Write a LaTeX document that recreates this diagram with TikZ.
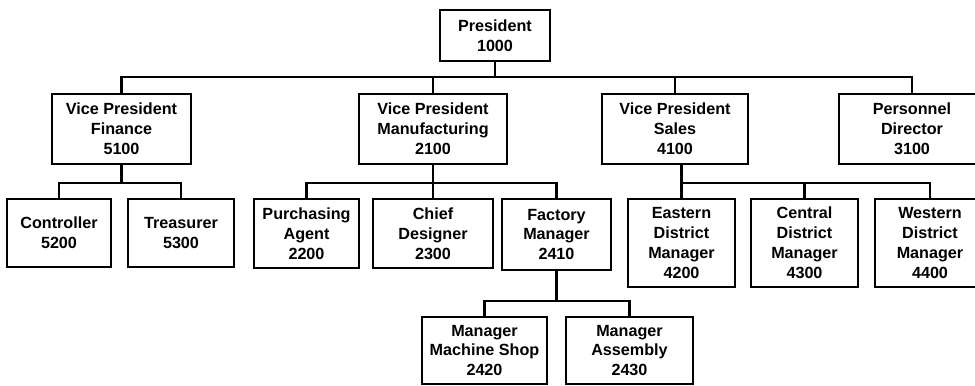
\documentclass[tikz,border=0pt]{standalone}
\usepackage{fontspec}
\setmainfont{Liberation Sans}
\usepackage{tikz}
\usetikzlibrary{calc}
\usetikzlibrary{positioning}

\begin{document}
\begin{tikzpicture}[x=0.025cm, y=-0.025cm,
		post/.style={draw, line width=1.6pt, align=center, inner sep=0pt,
			font=\fontsize{11.5}{14.2}\selectfont\bfseries},
		link/.style={line width=1.6pt}]
		\clip (0,0) rectangle (975,386);
		\node[post, minimum width=2.75cm, minimum height=1.275cm] (pres) at (495,35.5) {President\\1000};
		\node[post, minimum width=3.475cm, minimum height=1.75cm] (vpf) at (121.5,129) {Vice President\\Finance\\5100};
		\node[post, minimum width=3.7cm, minimum height=1.75cm] (vpm) at (433,129) {Vice President\\Manufacturing\\2100};
		\node[post, minimum width=3.65cm, minimum height=1.75cm] (vps) at (675,129) {Vice President\\Sales\\4100};
		\node[post, minimum width=3.65cm, minimum height=1.75cm] (pers) at (912,129) {Personnel\\Director\\3100};
		\node[post, minimum width=2.6cm, minimum height=1.7cm] (ctrl) at (59,233) {Controller\\5200};
		\node[post, minimum width=2.65cm, minimum height=1.7cm] (treas) at (181,233) {Treasurer\\5300};
		\node[post, minimum width=2.625cm, minimum height=1.725cm] (purch) at (306.5,233.5) {Purchasing\\Agent\\2200};
		\node[post, minimum width=3.0cm, minimum height=1.725cm] (chief) at (433,233.5) {Chief\\Designer\\2300};
		\node[post, minimum width=2.725cm, minimum height=1.775cm] (fact) at (556.5,234.5) {Factory\\Manager\\2410};
		\node[post, minimum width=2.675cm, minimum height=2.2cm] (east) at (681.5,243) {Eastern\\District\\Manager\\4200};
		\node[post, minimum width=2.675cm, minimum height=2.2cm] (cent) at (804.5,243) {Central\\District\\Manager\\4300};
		\node[post, minimum width=2.75cm, minimum height=2.2cm] (west) at (930,243) {Western\\District\\Manager\\4400};
		\node[post, minimum width=3.125cm, minimum height=1.675cm] (mshop) at (484.5,350.5) {Manager\\Machine Shop\\2420};
		\node[post, minimum width=3.175cm, minimum height=1.675cm] (assy) at (629.5,350.5) {Manager\\Assembly\\2430};
		% bus lines
		\coordinate (b0) at (495,77);
		\coordinate (b1) at (121.5,183);
		\coordinate (b2) at (433,183);
		\coordinate (b3) at (681.5,183);
		\coordinate (b4) at (556.5,301);
		\draw[link] (pres.south) -- (b0);
		\draw[link] (vpf.north) |- (b0) -| (pers.north);
		\draw[link] (vpm.north) -- (vpm.north |- b0);
		\draw[link] (vps.north) -- (vps.north |- b0);
		\draw[link] (vpf.south) -- (b1);
		\draw[link] (ctrl.north) |- (b1) -| (treas.north);
		\draw[link] (vpm.south) -- (b2);
		\draw[link] (purch.north) |- (b2) -| (fact.north);
		\draw[link] (chief.north) -- (b2);
		\draw[link] (vps.south -| b3) -- (b3);
		\draw[link] (east.north) -- (b3) -| (west.north);
		\draw[link] (cent.north) -- (cent.north |- b3);
		\draw[link] (fact.south) -- (b4);
		\draw[link] (mshop.north) |- (b4) -| (assy.north);
	\end{tikzpicture}
\end{document}
